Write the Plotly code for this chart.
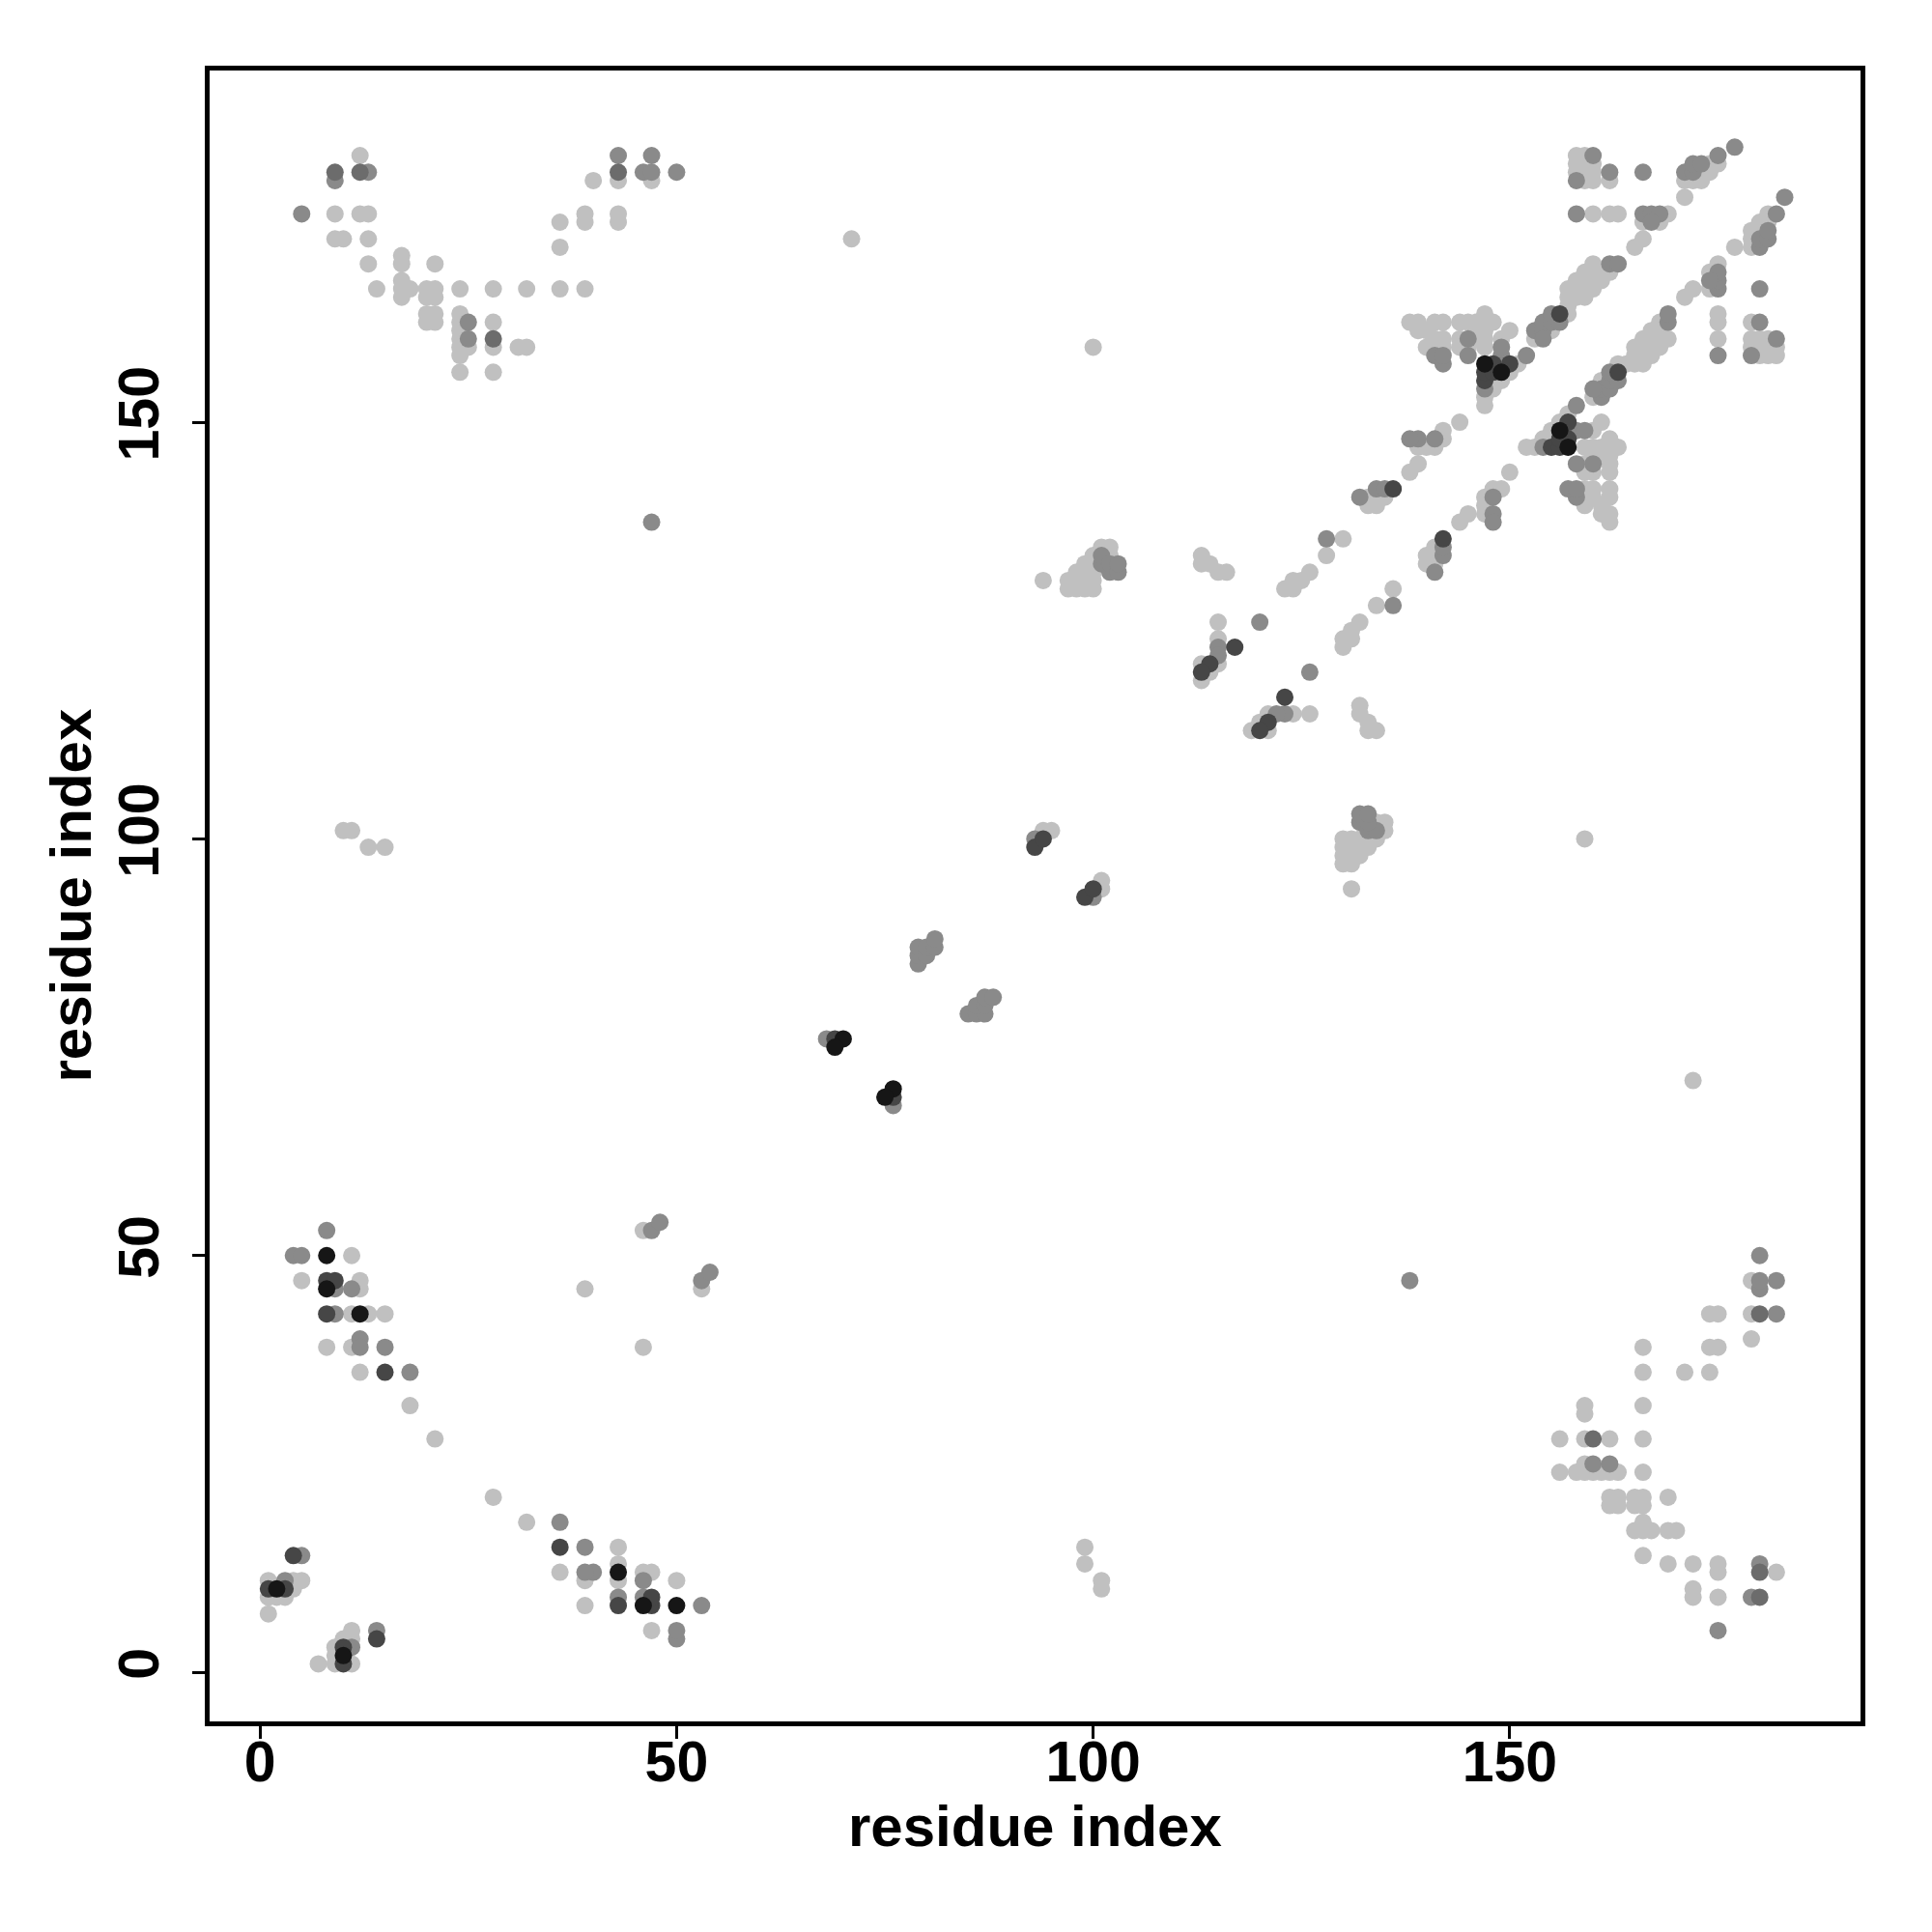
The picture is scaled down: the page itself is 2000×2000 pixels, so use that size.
import plotly.graph_objects as go

# Contact map: each contact (i, j) with i < j is drawn at (i, j) and at (j, i)
light_i = [12,9,12,13,9,10,13,13,17,17,21,14,17,17,17,18,20,21,20,21,20,21,20,21,24,28,32,36,39,24,24,24,24,24,24,24,25,28,28,28,31,32,36,36,39,39,40,43,43,43,47,
           11,5,12,12,11,13,15,8,11,12,18,21,1,4,5,1,3,1,4,2,46,39,
           71,100,10,11,13,15,94,95,
           94,97,97,98,98,98,99,99,99,99,100,100,100,100,100,101,102,102,
           113,113,114,115,116,115,115,113,113,114,115,123,124,124,125,126,130,128,133,134,134,133,135,138,139,144,142,142,141,140,139,
           138,139,139,140,140,141,141,142,142,142,144,144,144,145,145,146,146,146,147,147,147,147,147,147,147,148,148,149,149,150,150,151,153,155,157,
           157,157,157,158,158,158,159,159,159,159,160,160,160,160,161,161,162,165,166,166,168,169,160,162,163,171,159,160,162,158,159,160,158,159,160,159,
           171,172,173,173,174,174,175,158]
light_j = [182,175,175,175,172,172,172,169,170,169,169,166,167,166,165,166,166,166,165,165,163,163,162,162,166,166,166,166,166,163,162,161,160,159,158,156,159,162,159,156,159,159,174,171,175,174,179,179,175,174,179,
           50,47,47,46,43,43,43,39,39,36,32,28,11,11,11,9,9,7,10,9,53,46,
           172,159,101,101,99,99,101,101,
           131,130,131,130,131,132,130,131,132,133,130,131,132,133,134,135,134,135,
           134,133,133,132,132,126,124,121,119,120,121,130,130,131,131,132,136,134,140,140,141,141,141,144,145,150,149,148,147,147,147,
           162,161,162,159,161,160,162,159,160,162,159,160,162,159,162,160,161,162,152,153,159,160,161,162,163,154,162,155,160,156,161,157,160,161,163,
           164,165,166,165,166,167,165,166,167,168,166,167,168,169,167,168,168,171,172,174,174,175,175,175,175,177,179,179,179,180,180,180,181,181,181,182,
           179,179,179,180,180,181,181,182]

medium_i = [9,13,5,43,47,46,47,50,25,25,
            8,4,5,9,11,9,12,12,15,18,3,5,47,48,
            47,68,79,79,79,80,80,81,81,93,
            101,101,102,102,103,103,
            115,115,120,128,132,134,135,141,139,138,
            141,142,142,145,145,147,149,149,152,153,154,154,155,154,156,155,162,163,166,167,168,167,158,158,162,166,160,171,172,172,173,175,177]
medium_j = [179,180,175,182,182,180,180,180,162,160,
            53,50,50,46,46,43,40,39,39,36,11,14,53,54,
            138,76,85,86,87,86,87,87,88,100,
            133,134,132,133,132,133,
            123,122,126,136,141,142,142,148,148,148,
            158,157,158,158,160,154,158,159,158,161,161,162,162,160,162,163,169,169,175,175,175,174,175,179,180,180,182,180,180,181,181,182,183]

mid_dark_i = [9,12,28,43]
mid_dark_j = [180,180,160,180]

dark_i = [8,9,8,15,1,3,4,69,93,94,117,114,113,136,147,147,148,148,150,156]
dark_j = [47,47,43,36,10,10,14,76,99,100,123,121,120,142,155,156,156,157,157,163]

black_i = [8,8,12,2,70,69,147,149]
black_j = [50,46,43,10,76,75,157,156]

shades = [
    (light_i, light_j, "#c0c0c0"),
    (medium_i, medium_j, "#8a8a8a"),
    (mid_dark_i, mid_dark_j, "#6c6c6c"),
    (dark_i, dark_j, "#464646"),
    (black_i, black_j, "#161616"),
]

tick_vals = [0, 50, 100, 150]
axis_label = "residue index"

fig = go.Figure()
for ci, cj, col in shades:
    fig.add_trace(go.Scatter(
        x=list(ci) + list(cj),
        y=list(cj) + list(ci),
        mode="markers",
        marker=dict(size=18, color=col, line=dict(width=0)),
        showlegend=False,
        hoverinfo="skip",
    ))

font_fam = "Liberation Sans, Arial, sans-serif"
axis_common = dict(
    showgrid=False, zeroline=False,
    showline=True, linecolor="black", linewidth=5, mirror=True,
    ticks="outside", ticklen=13, tickwidth=3, tickcolor="black",
    tickvals=tick_vals, ticktext=[str(v) for v in tick_vals],
    tickfont=dict(family=font_fam, size=59, color="black", weight="bold"),
)
fig.update_xaxes(range=[-6.05, 192.1], ticklabelstandoff=-27, **axis_common)
fig.update_yaxes(range=[-5.9, 192.2], tickangle=-90, ticklabelstandoff=11, **axis_common)

fig.add_annotation(text=axis_label, xref="paper", yref="paper", x=0.5, y=0,
                   yshift=-108, showarrow=False, xanchor="center", yanchor="middle",
                   font=dict(family=font_fam, size=60, color="black", weight="bold"))
fig.add_annotation(text=axis_label, xref="paper", yref="paper", x=0, y=0.5,
                   xshift=-144, showarrow=False, xanchor="center", yanchor="middle",
                   textangle=-90,
                   font=dict(family=font_fam, size=60, color="black", weight="bold"))

fig.update_layout(
    width=2000, height=2000,
    margin=dict(l=209, r=82, t=65, b=226),
    plot_bgcolor="white", paper_bgcolor="white",
)
fig.write_html("out.html")
